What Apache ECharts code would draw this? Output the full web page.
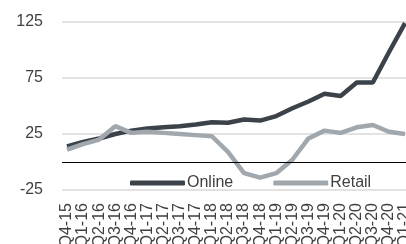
<!DOCTYPE html>
<html>
<head>
<meta charset="utf-8">
<script src="https://cdn.jsdelivr.net/npm/echarts@6/dist/echarts.min.js"></script>
<style>html,body{margin:0;padding:0;background:#fff;}#c{width:406px;height:244px;}</style>
</head>
<body>
<div id="c"></div>
<script>
var categories = ['Q4-15','Q1-16','Q2-16','Q3-16','Q4-16','Q1-17','Q2-17','Q3-17','Q4-17','Q1-18','Q2-18','Q3-18','Q4-18','Q1-19','Q2-19','Q3-19','Q4-19','Q1-20','Q2-20','Q3-20','Q4-20','Q1-21'];
var online = [14, 18, 21, 25, 28, 30, 31, 32, 33.5, 35.5, 35, 38, 37, 41, 48, 54, 61, 59, 71, 71, 98, 124];
var retail = [11, 16, 20, 32, 26, 27, 26, 25, 24, 23, 9, -10, -14, -10, 2, 21, 28, 26, 31, 33, 27, 25];
var yTicks = [-25, 25, 75, 125];

function pairs(arr){ return arr.map(function(v,i){ return [i, v]; }); }
var idx = categories.map(function(c,i){ return i; });

var chart = echarts.init(document.getElementById('c'), null, {renderer:'canvas'});
chart.setOption({
  animation: false,
  textStyle: { fontFamily: 'Liberation Sans, Arial, sans-serif' },
  grid: { left: 62, right: 0, top: 22, bottom: 54, containLabel: false, outerBoundsMode: 'none' },
  legend: {
    left: 125, top: 170,
    itemWidth: 55, itemHeight: 5, itemGap: 40,
    icon: 'roundRect',
    textStyle: { fontSize: 16, color: '#404040', padding: [0,0,0,-3] },
    data: ['Online', 'Retail']
  },
  xAxis: {
    type: 'value',
    min: -0.31, max: 21.06,
    axisLine: { show: false },
    axisTick: { show: false },
    splitLine: { show: false },
    axisLabel: {
      customValues: idx,
      rotate: 90,
      margin: 13,
      fontSize: 16,
      color: '#404040',
      hideOverlap: false,
      showMinLabel: true,
      showMaxLabel: true,
      formatter: function(v){ return categories[Math.round(v)]; }
    }
  },
  yAxis: {
    type: 'value',
    min: yTicks[0], max: yTicks[yTicks.length-1], interval: 50,
    axisLine: { show: false },
    axisTick: { show: false },
    axisLabel: { fontSize: 16, color: '#404040', margin: 19 },
    splitLine: { lineStyle: { color: '#d9d9d9', width: 1.5 } }
  },
  series: [
    {
      name: 'Online', type: 'line', data: pairs(online),
      symbol: 'none', lineStyle: { width: 4.5, color: '#3b4249' }, itemStyle: { color: '#3b4249' },
      markLine: {
        silent: true, symbol: 'none', label: { show: false },
        lineStyle: { color: '#000', width: 1, type: 'solid' },
        data: [{ yAxis: 0 }]
      }
    },
    {
      name: 'Retail', type: 'line', data: pairs(retail),
      symbol: 'none', lineStyle: { width: 4.5, color: '#a0a7ad' }, itemStyle: { color: '#a0a7ad' }
    }
  ]
});
</script>
</body>
</html>
